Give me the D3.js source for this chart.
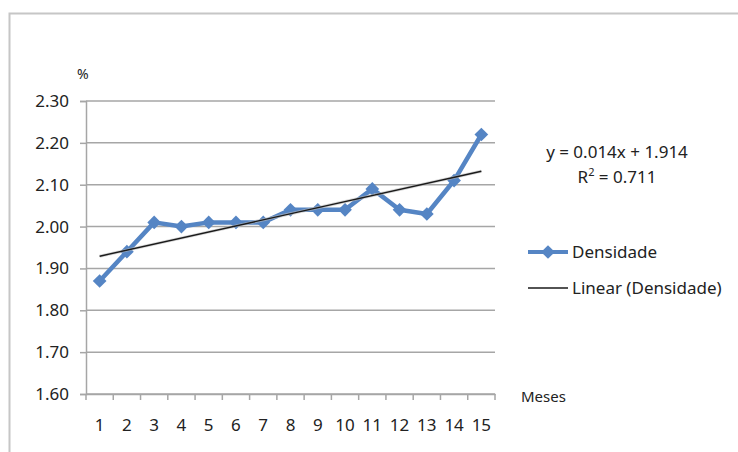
<!DOCTYPE html>
<html>
<head>
<meta charset="utf-8">
<script src="https://cdn.jsdelivr.net/npm/d3@7"></script>
<style>
  body { margin: 0; background: #fff; }
  svg text { font-family: "Noto Sans", "Open Sans", sans-serif; fill: #222; }
</style>
</head>
<body>
<div id="chart"></div>
<script>
// Data
const meses = ["1", "2", "3", "4", "5", "6", "7", "8", "9", "10", "11", "12", "13", "14", "15"];
const densidade = [1.87, 1.94, 2.01, 2.00, 2.01, 2.01, 2.01, 2.04, 2.04, 2.04, 2.09, 2.04, 2.03, 2.11, 2.22];
const yTicks = [1.6, 1.7, 1.8, 1.9, 2.0, 2.1, 2.2, 2.3];
const equationText = "y = 0.014x + 1.914";
const r2Value = "0.711";
const seriesName = "Densidade";
const trendName = "Linear (Densidade)";

const width = 738;
const height = 452;
const blue = "#5585c4";
const gridColor = "#a6a6a6";

const svg = d3.select("#chart")
  .append("svg")
  .attr("width", width)
  .attr("height", height);

// chart border (only top and left visible)
svg.append("path")
  .attr("d", "M9.5," + height + "V13.5H" + width)
  .attr("fill", "none")
  .attr("stroke", "#c6c6c6")
  .attr("stroke-width", 2);

// Scales
const x = d3.scaleBand()
  .domain(meses)
  .range([86, 495])
  .padding(0);

const y = d3.scaleLinear()
  .domain([1.6, 2.3])
  .range([394, 101]);

const cx = d => x(d) + x.bandwidth() / 2;

// gridlines + y axis
const yAxis = svg.append("g")
  .attr("transform", "translate(86,0)")
  .call(d3.axisLeft(y).tickValues(yTicks).tickFormat(d3.format(".2f")).tickSize(6).tickPadding(11));
yAxis.select(".domain").attr("stroke", gridColor).attr("stroke-width", 1.5);
yAxis.selectAll(".tick line").attr("stroke", gridColor).attr("stroke-width", 1.5);
yAxis.selectAll(".tick text").style("font-size", "17px").attr("fill", "#222");

svg.append("g")
  .selectAll("line")
  .data(yTicks)
  .enter()
  .append("line")
  .attr("x1", 86)
  .attr("x2", 495)
  .attr("y1", d => y(d))
  .attr("y2", d => y(d))
  .attr("stroke", gridColor)
  .attr("stroke-width", 1.5);

// x axis
const xAxis = svg.append("g")
  .attr("transform", "translate(0,394)")
  .call(d3.axisBottom(x).tickSize(0).tickPadding(25));
xAxis.select(".domain").attr("stroke", gridColor).attr("stroke-width", 1.5);
xAxis.selectAll(".tick text").style("font-size", "17px").attr("fill", "#222");

// x tick marks between categories
svg.append("g")
  .selectAll("line")
  .data(meses.concat(["end"]))
  .enter()
  .append("line")
  .attr("x1", d => d === "end" ? x.range()[1] : x(d))
  .attr("x2", d => d === "end" ? x.range()[1] : x(d))
  .attr("y1", 394)
  .attr("y2", 400)
  .attr("stroke", gridColor)
  .attr("stroke-width", 1.5);

// axis titles
svg.append("text")
  .attr("x", 77)
  .attr("y", 79)
  .style("font-size", "14px")
  .text("%");

svg.append("text")
  .attr("x", 521)
  .attr("y", 402)
  .style("font-size", "15px")
  .text("Meses");

// linear trend (least squares on data)
const xs = meses.map((d, i) => i + 1);
const mx = d3.mean(xs);
const my = d3.mean(densidade);
const slope = d3.sum(xs, (v, i) => (v - mx) * (densidade[i] - my)) / d3.sum(xs, v => (v - mx) * (v - mx));
const intercept = my - slope * mx;

// series line
const line = d3.line()
  .x(d => cx(d.mes))
  .y(d => y(d.value));

const points = meses.map((m, i) => ({ mes: m, value: densidade[i] }));

svg.append("path")
  .datum(points)
  .attr("d", line)
  .attr("fill", "none")
  .attr("stroke", blue)
  .attr("stroke-width", 4.5)
  .attr("stroke-linejoin", "round");

const diamond = d3.symbol().type(d3.symbolDiamond2).size(120);

svg.append("g")
  .selectAll("path")
  .data(points)
  .enter()
  .append("path")
  .attr("d", diamond)
  .attr("transform", d => "translate(" + cx(d.mes) + "," + y(d.value) + ")")
  .attr("fill", blue);

// trend line drawn on top
const trendPts = [xs[0], xs[xs.length - 1]].map(v => ({ mes: meses[v - 1], value: intercept + slope * v }));
svg.append("path")
  .datum(trendPts)
  .attr("d", line)
  .attr("fill", "none")
  .attr("stroke", "#bbb")
  .attr("stroke-width", 3)
  .attr("opacity", 0.6);
svg.append("path")
  .datum(trendPts)
  .attr("d", line)
  .attr("fill", "none")
  .attr("stroke", "#1a1a1a")
  .attr("stroke-width", 1.4);

// equation label
const eq = svg.append("g").style("font-size", "17px");
eq.append("text")
  .attr("x", 617)
  .attr("y", 158)
  .attr("text-anchor", "middle")
  .text(equationText);
const r2 = eq.append("text")
  .attr("x", 617)
  .attr("y", 183)
  .attr("text-anchor", "middle");
r2.append("tspan").text("R");
r2.append("tspan").attr("dy", -7).style("font-size", "11px").text("2");
r2.append("tspan").attr("dy", 7).text(" = " + r2Value);

// legend
const legend = svg.append("g").attr("transform", "translate(528,0)");
legend.append("line")
  .attr("x1", 0).attr("x2", 40)
  .attr("y1", 252).attr("y2", 252)
  .attr("stroke", blue)
  .attr("stroke-width", 4);
legend.append("path")
  .attr("d", diamond)
  .attr("transform", "translate(20,252)")
  .attr("fill", blue);
legend.append("text")
  .attr("x", 44)
  .attr("y", 258)
  .style("font-size", "17px")
  .text(seriesName);

legend.append("line")
  .attr("x1", 0).attr("x2", 40)
  .attr("y1", 288).attr("y2", 288)
  .attr("stroke", "#1a1a1a")
  .attr("stroke-width", 1.5);
legend.append("text")
  .attr("x", 44)
  .attr("y", 294)
  .style("font-size", "17px")
  .text(trendName);
</script>
</body>
</html>
